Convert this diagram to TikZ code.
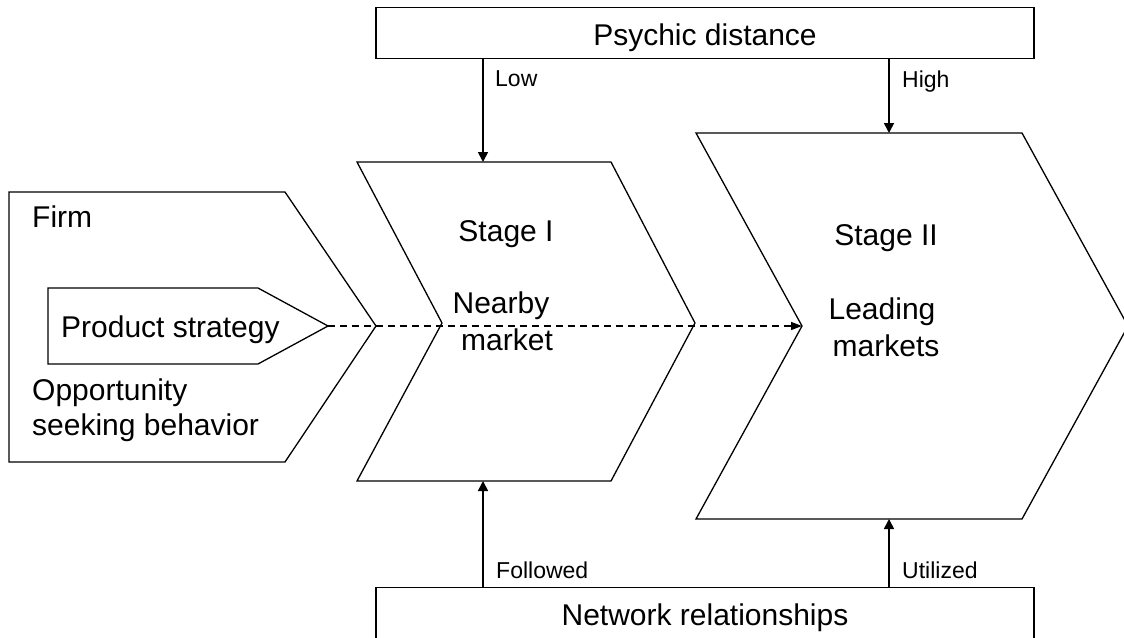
\documentclass[tikz,border=0pt]{standalone}
\usepackage{fontspec}
\setmainfont{Liberation Sans}
\usetikzlibrary{arrows.meta}
\tikzset{
  shapeline/.style={draw=black, line width=1.3pt, line join=miter},
  arr/.style={draw=black, line width=1.7pt, -{Triangle[length=10pt,width=10pt]}},
  dasharr/.style={draw=black, line width=1.5pt, dash pattern=on 7pt off 5pt, -{Triangle[length=11pt,width=8pt]}},
  big/.style={font=\fontsize{30}{36}\selectfont, inner sep=0pt},
  small/.style={font=\fontsize{23}{28}\selectfont, inner sep=0pt},
  boxnode/.style={draw=black, line width=1.3pt, minimum width=658pt, inner sep=0pt}
}
\begin{document}
\begin{tikzpicture}[x=1pt,y=-1pt]
\clip (0,0) rectangle (1124,637);
\fill[white] (0,0) rectangle (1124,637);
% boxes
\node[boxnode, minimum height=51pt, anchor=north] (pd) at (705,7) {};
\node[boxnode, minimum height=90pt, anchor=north] (net) at (705,587) {};
\node[big, anchor=base] (pdtext) at (705,45) {Psychic distance};
\node[big, anchor=base] (nettext) at (705,625) {Network relationships};
% firm
\draw[shapeline] (9,192) -- (285,192) -- (376,326) -- (285,462) -- (9,462) -- cycle;
\draw[shapeline] (48,288) -- (258,288) -- (328,326) -- (258,364) -- (48,364) -- cycle;
\coordinate (pstip) at (328,326);
\node[big, anchor=base west] (firm) at (32,227) {Firm};
\node[big, anchor=base west] (prod) at (61,337) {Product strategy};
\node[big, anchor=base west] (opp1) at (32,400) {Opportunity};
\node[big, anchor=base west] (opp2) at (32,435) {seeking behavior};
% stage I
\draw[shapeline] (357,162) -- (611,162) -- (695,323) -- (611,481) -- (357,481) -- (442,323) -- cycle;
\coordinate (s1t) at (483,162);
\coordinate (s1b) at (483,481);
\node[big, anchor=base] (st1) at (506,241) {Stage I};
\node[big, anchor=base] (near) at (501,313) {Nearby};
\node[big, anchor=base] (mkt) at (507,350) {market};
% stage II
\draw[shapeline] (696,133) -- (1022,133) -- (1128,326) -- (1022,519) -- (696,519) -- (802,326) -- cycle;
\coordinate (s2t) at (889,133);
\coordinate (s2b) at (889,519);
\coordinate (s2notch) at (802,326);
\node[big, anchor=base] (st2) at (886,245) {Stage II};
\node[big, anchor=base] (lead) at (882,319) {Leading};
\node[big, anchor=base] (mkts) at (886,356) {markets};
% connectors
\draw[arr] (pd.south -| s1t) -- (s1t);
\draw[arr] (pd.south -| s2t) -- (s2t);
\draw[arr] (net.north -| s1b) -- (s1b);
\draw[arr] (net.north -| s2b) -- (s2b);
\draw[dasharr] (pstip) -- (s2notch);
% labels
\node[small, anchor=base west] (low) at (495,86) {Low};
\node[small, anchor=base west] (high) at (902,87) {High};
\node[small, anchor=base west] (fol) at (496,578) {Followed};
\node[small, anchor=base west] (uti) at (902,578) {Utilized};
\end{tikzpicture}
\end{document}
